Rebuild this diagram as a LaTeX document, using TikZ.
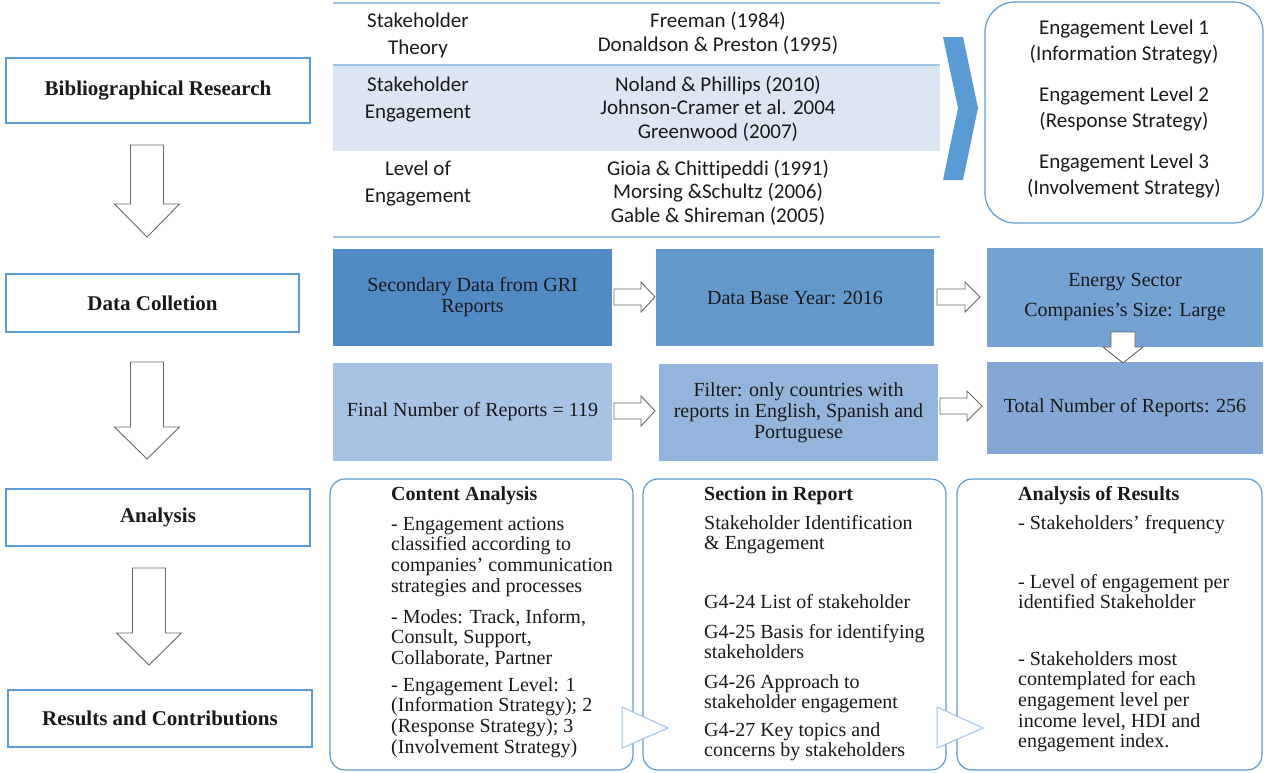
\documentclass[tikz,border=0pt]{standalone}
\usepackage{fontspec}
\setmainfont{Liberation Serif}
\newfontfamily\calfont[Ligatures=NoCommon]{Carlito}
\usetikzlibrary{calc}
\definecolor{bord}{HTML}{5B9BD5}
\definecolor{tline}{HTML}{9DC3E6}
\definecolor{bandc}{HTML}{DCE6F2}
\definecolor{chevc}{HTML}{5B9BD5}
\definecolor{cA}{HTML}{518AC4}
\definecolor{cB}{HTML}{6398CB}
\definecolor{cC}{HTML}{74A3D3}
\definecolor{cD}{HTML}{A7C2E5}
\definecolor{cE}{HTML}{95B4DB}
\definecolor{cF}{HTML}{84A7D5}
\definecolor{txt}{HTML}{1A1A1A}
\begin{document}
\begin{tikzpicture}[x=1pt,y=-1pt,
  stage/.style={draw=bord,line width=1.3pt,fill=white,inner sep=0pt,
    font=\fontsize{21}{24}\selectfont\bfseries,text=txt},
  harrow/.style={draw=black!60,line width=0.9pt,fill=white,line join=miter},
  tabtxt/.style={anchor=base,align=center,inner sep=0pt,text=txt},
  dbox/.style={inner sep=0pt,align=center,text=txt,
    font=\fontsize{20}{21}\selectfont},
  rbox/.style={draw=bord,line width=1.2pt,fill=white,rounded corners=15pt,inner sep=0pt},
  btxt/.style={anchor=base west,align=left,inner sep=0pt,text=txt,
    font=\fontsize{20}{20.7}\selectfont},
  btitle/.style={anchor=base west,inner sep=0pt,text=txt,
    font=\fontsize{20}{20.7}\selectfont\bfseries},
  tri/.style={draw=tline,line width=1pt,fill=white,line join=miter}
]
\useasboundingbox (0,0) rectangle (1264,772);

% ---------- left column ----------
\node[stage,minimum width=304pt,minimum height=65pt] (bib) at (158,90.5) {Bibliographical Research};
\node[stage,minimum width=293pt,minimum height=58pt] (dat) at (152.5,303) {Data Colletion};
\node[stage,minimum width=304pt,minimum height=57pt] (ana) at (158,517.5) {Analysis};
\node[stage,minimum width=304pt,minimum height=57pt] (rsl) at (160,718.5) {Results and Contributions};

\draw[harrow] (147,145) ++(-16.5,0) -- ++(33,0) -- ++(0,59) -- ++(16,0) -- ++(-32.5,33) -- ++(-32.5,-33) -- ++(16,0) -- cycle;
\draw[harrow] (147,362) ++(-16.5,0) -- ++(33,0) -- ++(0,65) -- ++(16,0) -- ++(-32.5,32) -- ++(-32.5,-32) -- ++(16,0) -- cycle;
\draw[harrow] (149,568) ++(-16.5,0) -- ++(33,0) -- ++(0,65) -- ++(16,0) -- ++(-32.5,32) -- ++(-32.5,-32) -- ++(16,0) -- cycle;

% ---------- literature table ----------
\fill[bandc] (333,65) rectangle (940,151);
\draw[tline,line width=2.2pt] (333,3) -- (940,3);
\draw[tline,line width=2.2pt] (333,65) -- (940,65);
\draw[tline,line width=2.2pt] (333,237) -- (940,237);

% (multi-line nodes: base = baseline of the last line)
\begin{scope}[every node/.append style={font=\calfont\fontsize{21}{27}\selectfont}]
\node[tabtxt] (th1) at (418,54) {Stakeholder\\Theory};
\node[tabtxt] (th2) at (418,118) {Stakeholder\\Engagement};
\node[tabtxt] (th3) at (418,202) {Level of\\Engagement};
\end{scope}
\begin{scope}[every node/.append style={font=\calfont\fontsize{21}{23.7}\selectfont}]
\node[tabtxt] (rf1) at (718,51) {Freeman (1984)\\Donaldson \& Preston (1995)};
\node[tabtxt] (rf2) at (718,138.4) {Noland \& Phillips (2010)\\Johnson-Cramer et al. 2004\\Greenwood (2007)};
\node[tabtxt] (rf3) at (718,222.4) {Gioia \& Chittipeddi (1991)\\Morsing \&Schultz (2006)\\Gable \& Shireman (2005)};
\end{scope}

% chevron
\fill[chevc] (943,37) -- (963,37) -- (978,108) -- (963,180) -- (943,180) -- (958,108) -- cycle;

% engagement levels box
\node[draw=bord,line width=1.2pt,rounded corners=30pt,minimum width=278pt,minimum height=221pt,inner sep=0pt] (lev) at (1124,112.5) {};
\node[tabtxt,font=\calfont\fontsize{21}{26}\selectfont] (levt) at (1124,194) {Engagement Level 1\\(Information Strategy)\\[15pt]Engagement Level 2\\(Response Strategy)\\[15pt]Engagement Level 3\\(Involvement Strategy)};

% ---------- data collection ----------
\node[dbox,fill=cA,minimum width=279pt,minimum height=97pt] (A) at (472.5,297.5) {Secondary Data from GRI\\Reports};
\node[dbox,fill=cB,minimum width=278pt,minimum height=97pt] (B) at (795,297.5) {Data Base Year: 2016};
\node[dbox,fill=cC,minimum width=276pt,minimum height=99pt] (C) at (1125,297.5) {Energy Sector\\[9pt]Companies’s Size: Large};
\node[dbox,fill=cD,minimum width=279pt,minimum height=98pt] (D) at (472.5,412) {Final Number of Reports = 119};
\node[dbox,fill=cE,minimum width=279pt,minimum height=97pt] (E) at (798.5,412.5) {Filter: only countries with\\reports in English, Spanish and\\Portuguese};
\node[dbox,fill=cF,minimum width=276pt,minimum height=92pt] (F) at (1125,408) {Total Number of Reports: 256};

\draw[harrow] (614,297) ++(0,-8) -- ++(27,0) -- ++(0,-7) -- ++(14,15) -- ++(-14,15) -- ++(0,-7) -- ++(-27,0) -- cycle;
\draw[harrow] (937,297) ++(0,-8) -- ++(28,0) -- ++(0,-7) -- ++(15,15) -- ++(-15,15) -- ++(0,-7) -- ++(-28,0) -- cycle;
\draw[harrow] (614,411) ++(0,-8) -- ++(27,0) -- ++(0,-7) -- ++(14,15) -- ++(-14,15) -- ++(0,-7) -- ++(-27,0) -- cycle;
\draw[harrow] (940,406) ++(0,-8) -- ++(27,0) -- ++(0,-7) -- ++(15,15) -- ++(-15,15) -- ++(0,-7) -- ++(-27,0) -- cycle;
\draw[harrow] (1123,332) ++(-12,0) -- ++(24,0) -- ++(0,15) -- ++(8,0) -- ++(-20,16) -- ++(-20,-16) -- ++(8,0) -- cycle;

% ---------- analysis boxes ----------
\node[rbox,minimum width=303pt,minimum height=291pt] (ca) at (481.5,624.5) {};
\node[rbox,minimum width=303pt,minimum height=291pt] (sec) at (794.5,624.5) {};
\node[rbox,minimum width=305pt,minimum height=291pt] (res) at (1109.5,624.5) {};

\filldraw[tri] (622,707) -- (668,728) -- (622,748) -- cycle;
\filldraw[tri] (937,707) -- (983,728) -- (937,748) -- cycle;

\node[btitle] (ca0) at (391,500) {Content Analysis};
\node[btxt] (ca1) at (391,592.1) {- Engagement actions\\classified according to\\companies’ communication\\strategies and processes};
\node[btxt] (ca2) at (391,664.4) {- Modes: Track, Inform,\\Consult, Support,\\Collaborate, Partner};
\node[btxt] (ca3) at (391,753.1) {- Engagement Level: 1\\(Information Strategy); 2\\(Response Strategy); 3\\(Involvement Strategy)};

\node[btitle] (se0) at (704,500) {Section in Report};
\node[btxt] (se1) at (704,549.7) {Stakeholder Identification\\\& Engagement};
\node[btxt] (se2) at (704,608) {G4-24 List of stakeholder};
\node[btxt] (se3) at (704,658.7) {G4-25 Basis for identifying\\stakeholders};
\node[btxt] (se4) at (704,708.7) {G4-26 Approach to\\stakeholder engagement};
\node[btxt] (se5) at (704,756.7) {G4-27 Key topics and\\concerns by stakeholders};

\node[btitle] (re0) at (1018,500) {Analysis of Results};
\node[btxt] (re1) at (1018,529) {- Stakeholders’ frequency};
\node[btxt] (re2) at (1018,608.7) {- Level of engagement per\\identified Stakeholder};
\node[btxt] (re3) at (1018,747.8) {- Stakeholders most\\contemplated for each\\engagement level per\\income level, HDI and\\engagement index.};
\end{tikzpicture}
\end{document}
